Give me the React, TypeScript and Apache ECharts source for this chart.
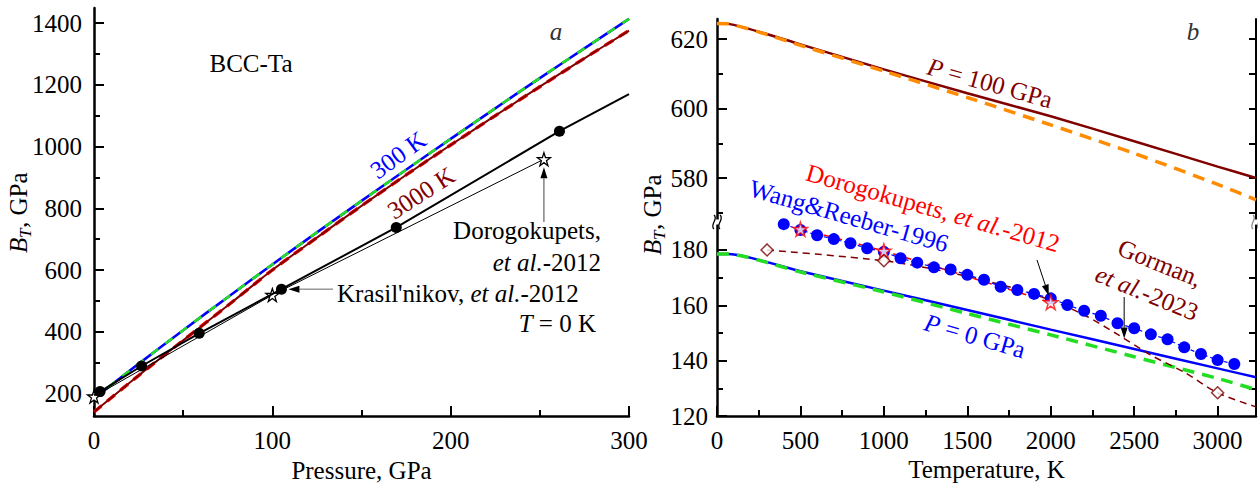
import React, { useEffect, useRef } from "react";
import * as echarts from "echarts";

const SERIF = "'Liberation Serif', 'Times New Roman', serif";
const BLUE = "#0000ff";
const GREEN = "#22dd22";
const RED = "#ff0000";
const MAROON = "#800000";
const ORANGE = "#ff8c00";
const BLACK = "#000000";

// ---- (a) bulk modulus isotherms vs pressure ----
const pressureGPa = [0, 25, 50, 75, 100, 125, 150, 175, 200, 225, 250, 275, 300];
const bulk300K = [184, 296, 405, 512, 618, 722, 824, 925, 1025, 1124, 1222, 1318, 1414];
const bulk3000K = [140, 258, 372, 485, 600, 705, 808, 908, 1005, 1100, 1194, 1286, 1376];
// Krasil'nikov et al. 2012, T = 0 K (first and last entries are line ends without markers)
const krasilnikovP = [0, 3.4, 26.7, 59, 105.1, 169.5, 261, 300];
const krasilnikovB = [195, 206, 289, 395, 538, 738, 1050, 1170];
// Dorogokupets et al. 2012
const dorogokupetsP = [0, 100, 252.3];
const dorogokupetsB = [190, 519, 959];

// ---- (b) bulk modulus isobars vs temperature ----
const temperatureK = [0, 70, 500, 1000, 1500, 2000, 2500, 3000, 3230];
const bulk100GPa = [624.5, 624.4, 618.5, 611.3, 604.4, 597.8, 590.6, 583.3, 580.0];
const bulk100GPaDashed = [624.5, 624.4, 618.2, 610.8, 603.2, 595.3, 587.1, 578.2, 573.7];
const bulk0GPa = [178.5, 178.5, 172.3, 165.3, 158.3, 151.2, 144.2, 137.2, 134.0];
const bulk0GPaDashed = [178.5, 178.5, 172.0, 164.8, 157.0, 149.3, 141.4, 133.6, 129.5];
// Wang & Reeber 1996
const wangReeberT = [400, 500, 600, 700, 800, 900, 1000, 1100, 1200, 1300, 1400, 1500, 1600, 1700,
  1800, 1900, 2000, 2100, 2200, 2300, 2400, 2500, 2600, 2700, 2800, 2900, 3000, 3100];
const wangReeberB = [189.3, 187.2, 185.3, 183.9, 182.4, 180.6, 179.3, 177.0, 175.4, 173.7, 172.9, 171.0,
  169.2, 166.7, 165.5, 164.1, 162.5, 160.1, 158.0, 156.2, 153.5, 151.7, 149.5, 147.7, 144.8, 142.4, 140.2, 138.8];
// Dorogokupets et al. 2012
const dorogokupetsT = [500, 1000, 2000];
const dorogokupetsBT = [187.5, 179.6, 161.0];
// Gorman et al. 2023
const gormanCurveT = [300, 1000, 1300, 1600, 1800, 2000, 2200, 2400, 2600, 2800, 3000, 3230];
const gormanCurveB = [180, 176.1, 173, 169, 165.8, 161.8, 156.5, 149.5, 142, 135.8, 128.4, 123.3];
const gormanT = [300, 1000, 3000];
const gormanB = [180, 176.1, 128.4];

// ---- tick positions ----
const pressureTicks = [0, 100, 200, 300];
const pressureMinor = [50, 150, 250];
const bulkTicksA = [200, 400, 600, 800, 1000, 1200, 1400];
const bulkMinorA = [300, 500, 700, 900, 1100, 1300];
const tempTicks = [0, 500, 1000, 1500, 2000, 2500, 3000];
const tempMinor = [250, 750, 1250, 1750, 2250, 2750];
const upperTicks = [580, 600, 620];
const upperMinor = [570, 590, 610];
const lowerTicks = [120, 140, 160, 180];
const lowerMinor = [130, 150, 170];

const pairs = (xs: number[], ys: number[]) => xs.map((x, i) => [x, ys[i]]);

const STAR =
  "path://M50,0 L61.8,35.1 L98.9,35.1 L69.1,57.3 L80.3,92.7 L50,71 L19.7,92.7 L30.9,57.3 L1.1,35.1 L38.2,35.1 Z";

const tickLine = { color: BLACK, width: 2 };

function majorAxis(gridIndex: number, min: number, max: number, ticks: number[], position: string, margin: number, extra: any = {}) {
  return {
    type: "value", gridIndex, min, max, position,
    axisLine: { show: true, onZero: false, lineStyle: { color: BLACK, width: 2.5 } },
    axisTick: { show: true, inside: true, length: 10, lineStyle: tickLine, customValues: ticks },
    axisLabel: {
      show: true, margin, color: BLACK, fontSize: 25, fontFamily: SERIF, customValues: ticks,
      formatter: (v: number) => String(v),
    },
    splitLine: { show: false },
    ...extra,
  };
}

function tickAxis(gridIndex: number, min: number, max: number, ticks: number[], position: string, length: number, showLine = false) {
  return {
    type: "value", gridIndex, min, max, position,
    axisLine: { show: showLine, onZero: false, lineStyle: { color: BLACK, width: 2 } },
    axisTick: { show: true, inside: true, length, lineStyle: tickLine, customValues: ticks },
    axisLabel: { show: false },
    splitLine: { show: false },
  };
}

function richText(x: number, y: number, parts: Array<[string, boolean]>, color: string, rotDeg: number, align = "center", size = 25) {
  const rich: any = {
    n: { fontSize: size, fontFamily: SERIF, fill: color },
    i: { fontSize: size, fontFamily: SERIF, fontStyle: "italic", fill: color },
  };
  const text = parts.map(([s, it]) => `{${it ? "i" : "n"}|${s}}`).join("");
  return {
    type: "text", x, y, rotation: (rotDeg * Math.PI) / 180, z: 60,
    style: { text, rich, align, verticalAlign: "middle", fontSize: size, fontFamily: SERIF, fill: color },
  };
}

function yTitle(cx: number, cy: number) {
  const base = { fill: BLACK, verticalAlign: "middle", align: "left" };
  return {
    type: "group", x: cx, y: cy, rotation: Math.PI / 2, z: 60,
    children: [
      { type: "text", x: -41, y: 0, style: { ...base, text: "B", font: `italic 25px ${SERIF}` } },
      { type: "text", x: -26, y: 7, style: { ...base, text: "T", font: `italic 17px ${SERIF}` } },
      { type: "text", x: -16, y: 0, style: { ...base, text: ", GPa", font: `25px ${SERIF}` } },
    ],
  };
}

function breakMark(x: number, y: number, color: string) {
  const wave = (dx: number) => ({
    type: "bezierCurve", z: 61,
    shape: { x1: x + dx, y1: y - 7, cpx1: x + dx + 5, cpy1: y - 3, cpx2: x + dx - 5, cpy2: y + 3, x2: x + dx, y2: y + 7 },
    style: { stroke: color, lineWidth: 1.3, fill: "none" },
  });
  return [
    { type: "rect", z: 60, shape: { x: x - 6, y: y - 2.5, width: 12, height: 5 }, style: { fill: "#fff" } },
    wave(-3),
    wave(3),
  ];
}

function arrow(x1: number, y1: number, x2: number, y2: number, color: string, width = 1, head = 11, half = 3.5) {
  const dx = x2 - x1, dy = y2 - y1;
  const L = Math.hypot(dx, dy);
  const ux = dx / L, uy = dy / L;
  const bx = x2 - ux * head, by = y2 - uy * head;
  return [
    { type: "line", z: 62, shape: { x1, y1, x2: bx, y2: by }, style: { stroke: color, lineWidth: width } },
    {
      type: "polygon", z: 62,
      shape: { points: [[x2, y2], [bx - uy * half, by + ux * half], [bx + uy * half, by - ux * half]] },
      style: { fill: BLACK },
    },
  ];
}

function buildOption() {
  const krasData = krasilnikovP.map((p, i) =>
    i === 0 || i === krasilnikovP.length - 1 ? { value: [p, krasilnikovB[i]], symbol: "none" } : { value: [p, krasilnikovB[i]] }
  );
  return {
    animation: false,
    backgroundColor: "#fff",
    grid: [
      { left: 94, top: 8, width: 535, height: 408, containLabel: false, outerBoundsMode: "none" },
      { left: 717, top: 19, width: 539, height: 200.7, containLabel: false, outerBoundsMode: "none" },
      { left: 717, top: 225, width: 539, height: 191, containLabel: false, outerBoundsMode: "none" },
    ],
    xAxis: [
      majorAxis(0, 0, 300, pressureTicks, "bottom", 12, {
        name: "Pressure, GPa", nameLocation: "middle", nameGap: 41,
        nameTextStyle: { color: BLACK, fontSize: 25, fontFamily: SERIF },
      }),
      tickAxis(0, 0, 300, pressureMinor, "bottom", 6),
      { type: "value", gridIndex: 1, min: 0, max: 3230, show: false },
      majorAxis(2, 0, 3230, tempTicks, "bottom", 12, {
        name: "Temperature, K", nameLocation: "middle", nameGap: 41,
        nameTextStyle: { color: BLACK, fontSize: 25, fontFamily: SERIF },
      }),
      tickAxis(2, 0, 3230, tempMinor, "bottom", 6),
    ],
    yAxis: [
      majorAxis(0, 127, 1449, bulkTicksA, "left", 12),
      tickAxis(0, 127, 1449, bulkMinorA, "left", 6),
      majorAxis(1, 568, 625.8, upperTicks, "left", 9),
      tickAxis(1, 568, 625.8, upperMinor, "left", 6),
      tickAxis(1, 568, 625.8, [570, 580, 590, 600, 610, 620], "right", 7, true),
      majorAxis(2, 120, 189, lowerTicks, "left", 9),
      tickAxis(2, 120, 189, lowerMinor, "left", 6),
      tickAxis(2, 120, 189, [130, 140, 150, 160, 170, 180], "right", 7, true),
    ],
    series: [
      // 0-3: panel a isotherms
      { type: "line", xAxisIndex: 0, yAxisIndex: 0, data: pairs(pressureGPa, bulk300K), symbol: "none", smooth: 0.3,
        lineStyle: { color: BLUE, width: 2.6 }, z: 3 },
      { type: "line", xAxisIndex: 0, yAxisIndex: 0, data: pairs(pressureGPa, bulk300K), symbol: "none", smooth: 0.3,
        lineStyle: { color: GREEN, width: 2.6, type: [9, 9] }, z: 4 },
      { type: "line", xAxisIndex: 0, yAxisIndex: 0, data: pairs(pressureGPa, bulk3000K), symbol: "none", smooth: 0.3,
        lineStyle: { color: RED, width: 3.4, type: [10, 7] }, z: 3 },
      { type: "line", xAxisIndex: 0, yAxisIndex: 0, data: pairs(pressureGPa, bulk3000K), symbol: "none", smooth: 0.3,
        lineStyle: { color: MAROON, width: 2 }, z: 4 },
      // 4: Dorogokupets (a)
      { type: "line", xAxisIndex: 0, yAxisIndex: 0, data: pairs(dorogokupetsP, dorogokupetsB), symbol: STAR, symbolSize: 13,
        showSymbol: true, lineStyle: { color: BLACK, width: 1 },
        itemStyle: { color: "#fff", borderColor: BLACK, borderWidth: 1.3 }, z: 6, clip: false },
      // 5: Krasil'nikov (a)
      { type: "line", xAxisIndex: 0, yAxisIndex: 0, data: krasData, symbol: "circle", symbolSize: 11, showSymbol: true,
        lineStyle: { color: BLACK, width: 2 }, itemStyle: { color: BLACK }, z: 7 },
      // 6-7: panel b, P = 100 GPa
      { type: "line", xAxisIndex: 2, yAxisIndex: 2, data: pairs(temperatureK, bulk100GPa), symbol: "none", smooth: 0.2,
        lineStyle: { color: MAROON, width: 2.5 }, z: 3 },
      { type: "line", xAxisIndex: 2, yAxisIndex: 2, data: pairs(temperatureK, bulk100GPaDashed), symbol: "none", smooth: 0.2,
        lineStyle: { color: ORANGE, width: 3.5, type: [12, 8] }, z: 4 },
      // 8-9: panel b, P = 0 GPa
      { type: "line", xAxisIndex: 3, yAxisIndex: 5, data: pairs(temperatureK, bulk0GPa), symbol: "none", smooth: 0.2,
        lineStyle: { color: BLUE, width: 2.5 }, z: 3 },
      { type: "line", xAxisIndex: 3, yAxisIndex: 5, data: pairs(temperatureK, bulk0GPaDashed), symbol: "none", smooth: 0.2,
        lineStyle: { color: GREEN, width: 3.5, type: [12, 8] }, z: 4 },
      // 10: Gorman curve
      { type: "line", xAxisIndex: 3, yAxisIndex: 5, data: pairs(gormanCurveT, gormanCurveB), symbol: "none", smooth: 0.3,
        lineStyle: { color: MAROON, width: 1.5, type: [7, 5] }, z: 5 },
      // 11: Dorogokupets curve (b)
      { type: "line", xAxisIndex: 3, yAxisIndex: 5, data: pairs(dorogokupetsT, dorogokupetsBT), symbol: "none", smooth: 0.3,
        lineStyle: { color: RED, width: 1.5, type: [7, 5] }, z: 5 },
      // 12: Wang & Reeber
      { type: "line", xAxisIndex: 3, yAxisIndex: 5, data: pairs(wangReeberT, wangReeberB), symbol: "circle", symbolSize: 12,
        showSymbol: true, lineStyle: { color: BLUE, width: 1.2, type: [4, 3] }, itemStyle: { color: BLUE }, z: 6, clip: false },
      // 13: Dorogokupets points (b)
      { type: "scatter", xAxisIndex: 3, yAxisIndex: 5, data: pairs(dorogokupetsT, dorogokupetsBT), symbol: STAR, symbolSize: 14,
        itemStyle: { color: "#fff", borderColor: RED, borderWidth: 1.5 }, z: 8, clip: false },
      // 14: Gorman points
      { type: "scatter", xAxisIndex: 3, yAxisIndex: 5, data: pairs(gormanT, gormanB), symbol: "diamond", symbolSize: 12,
        itemStyle: { color: "#fff", borderColor: MAROON, borderWidth: 1.5 }, z: 8, clip: false },
    ],
  };
}

function buildGraphics(chart: any) {
  const px = (seriesIndex: number, v: number[]) => chart.convertToPixel({ seriesIndex }, v) as number[];

  const doroStarA = px(4, [dorogokupetsP[2], dorogokupetsB[2]]);
  const krasDot = px(5, [krasilnikovP[4], krasilnikovB[4]]);
  const doroStarB = px(13, [dorogokupetsT[2], dorogokupetsBT[2]]);
  const gormanTip = px(10, [2440, 148]);

  const els: any[] = [
    // panel a
    richText(251, 63, [["BCC-Ta", false]], BLACK, 0),
    richText(556, 31, [["a", true]], "#333", 0),
    richText(398, 155, [["300 K", false]], BLUE, 36),
    richText(421, 193, [["3000 K", false]], MAROON, 33),
    richText(601, 230, [["Dorogokupets,", false]], BLACK, 0, "right"),
    richText(601, 262, [["et al.", true], ["-2012", false]], BLACK, 0, "right"),
    richText(337, 293, [["Krasil'nikov, ", false], ["et al.", true], ["-2012", false]], BLACK, 0, "left"),
    richText(596, 323, [["T", true], [" = 0 K", false]], BLACK, 0, "right"),
    ...arrow(doroStarA[0], 222, doroStarA[0], doroStarA[1] + 8, "#444", 1),
    ...arrow(333, krasDot[1], krasDot[0] + 7, krasDot[1], "#666", 1),
    yTitle(18, 212),
    // panel b
    richText(1193, 31, [["b", true]], "#333", 0),
    richText(990, 83, [["P", true], [" = 100 GPa", false]], MAROON, -15.5),
    richText(933, 208, [["Dorogokupets, ", false], ["et al.", true], ["-2012", false]], RED, -16),
    richText(849, 216, [["Wang&Reeber-1996", false]], BLUE, -16),
    richText(1160, 263, [["Gorman,", false]], MAROON, -22),
    richText(1147, 293, [["et al.", true], ["-2023", false]], MAROON, -22),
    richText(975, 336, [["P", true], [" = 0 GPa", false]], BLUE, -16),
    ...arrow(1037, 260, doroStarB[0] - 2, doroStarB[1] - 7, BLACK, 1),
    ...arrow(gormanTip[0], 297, gormanTip[0], gormanTip[1], BLACK, 1),
    yTitle(652, 214),
    ...breakMark(717, 222, BLACK),
    ...breakMark(1256, 222, "#888"),
  ];
  return els;
}

export default function App() {
  const ref = useRef<HTMLDivElement>(null);
  useEffect(() => {
    if (!ref.current) return;
    const chart = echarts.init(ref.current, null, { renderer: "svg" });
    chart.setOption(buildOption() as any);
    chart.setOption({ graphic: buildGraphics(chart) } as any);
    return () => chart.dispose();
  }, []);
  return (
    <div
      ref={ref}
      style={{ position: "fixed", left: 0, top: 0, width: 1258, height: 488, background: "#fff" }}
    />
  );
}
